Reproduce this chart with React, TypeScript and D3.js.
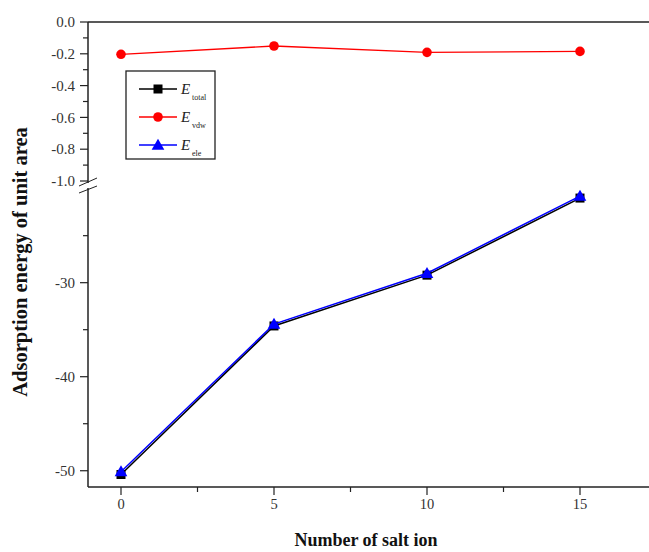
import React from "react";
import * as d3 from "d3";

// Number of salt ions on the x axis
const saltIons = [0, 5, 10, 15];
// Adsorption energy components per unit area
const eTotal = [-50.4, -34.6, -29.2, -21.0];
const eVdw = [-0.203, -0.151, -0.191, -0.185];
const eEle = [-50.1, -34.4, -29.0, -20.8];

const xMajorTicks = [0, 5, 10, 15];
const xMinorTicks = [2.5, 7.5, 12.5];
const upperMajorTicks = [0.0, -0.2, -0.4, -0.6, -0.8, -1.0];
const upperMinorTicks = [-0.1, -0.3, -0.5, -0.7, -0.9];
const lowerMajorTicks = [-30, -40, -50];
const lowerMinorTicks = [-25, -35, -45];

const seriesNames = ["total", "vdw", "ele"];

const W = 649;
const H = 552;
const left = 88;
const right = 660;
const top = 22;
const bottom = 487;
const breakTop = 183;
const breakBottom = 188;

const x = d3.scaleLinear().domain([0, 15]).range([121, 580]);
const yUpper = d3.scaleLinear().domain([-1.0, 0.0]).range([181, top]);
const yLower = d3.scaleLinear().domain([-51.73, -19.93]).range([bottom, breakBottom]);

const font = "'Liberation Serif', 'Times New Roman', serif";

function Square({ cx, cy, s, fill }: { cx: number; cy: number; s: number; fill: string }) {
  return <rect x={cx - s / 2} y={cy - s / 2} width={s} height={s} fill={fill} />;
}
function Triangle({ cx, cy, s, fill }: { cx: number; cy: number; s: number; fill: string }) {
  const sym = d3.symbol(d3.symbolTriangle, s)();
  return <path d={sym || ""} transform={`translate(${cx},${cy + 1})`} fill={fill} />;
}

export default function App() {
  const lineUpper = d3
    .line<number>()
    .x((_, i) => x(saltIons[i]))
    .y((d) => yUpper(d));
  const lineLower = d3
    .line<number>()
    .x((_, i) => x(saltIons[i]))
    .y((d) => yLower(d));

  const legendRows = [
    { color: "#000000", name: seriesNames[0], marker: "square", y: 89 },
    { color: "#ff0000", name: seriesNames[1], marker: "circle", y: 117 },
    { color: "#0000ff", name: seriesNames[2], marker: "triangle", y: 145 },
  ];

  return (
    <svg
      width={W}
      height={H}
      style={{ position: "absolute", left: 0, top: 0, background: "#fff" }}
      fontFamily={font}
    >
      <rect width={W} height={H} fill="#fff" />
      {/* frame */}
      <line x1={left} x2={right} y1={top} y2={top} stroke="#222" strokeWidth={1.5} />
      <line x1={left} x2={right} y1={bottom} y2={bottom} stroke="#222" strokeWidth={1.5} />
      <line x1={left} x2={left} y1={top} y2={breakTop} stroke="#222" strokeWidth={1.5} />
      <line x1={left} x2={left} y1={breakBottom} y2={bottom} stroke="#222" strokeWidth={1.5} />
      {/* axis break marks */}
      <line x1={79} x2={97} y1={186} y2={178} stroke="#222" strokeWidth={1} />
      <line x1={79} x2={97} y1={193} y2={186} stroke="#222" strokeWidth={1} />

      {/* upper y ticks */}
      {upperMajorTicks.map((t) => (
        <g key={`um${t}`}>
          <line x1={left - 8} x2={left} y1={yUpper(t)} y2={yUpper(t)} stroke="#222" strokeWidth={1.2} />
          <text x={75} y={yUpper(t)} dy="0.35em" textAnchor="end" fontSize={15} fill="#333">
            {t === 0 ? "0.0" : "-" + Math.abs(t).toFixed(1)}
          </text>
        </g>
      ))}
      {upperMinorTicks.map((t) => (
        <line key={`un${t}`} x1={left - 5} x2={left} y1={yUpper(t)} y2={yUpper(t)} stroke="#222" strokeWidth={1.2} />
      ))}
      {/* lower y ticks */}
      {lowerMajorTicks.map((t) => (
        <g key={`lm${t}`}>
          <line x1={left - 8} x2={left} y1={yLower(t)} y2={yLower(t)} stroke="#222" strokeWidth={1.2} />
          <text x={75} y={yLower(t)} dy="0.35em" textAnchor="end" fontSize={15} fill="#333">
            {"-" + Math.abs(t)}
          </text>
        </g>
      ))}
      {lowerMinorTicks.map((t) => (
        <line key={`ln${t}`} x1={left - 5} x2={left} y1={yLower(t)} y2={yLower(t)} stroke="#222" strokeWidth={1.2} />
      ))}
      {/* x ticks */}
      {xMajorTicks.map((t) => (
        <g key={`xm${t}`}>
          <line x1={x(t)} x2={x(t)} y1={bottom} y2={bottom + 8} stroke="#222" strokeWidth={1.2} />
          <text x={x(t)} y={bottom + 22} textAnchor="middle" fontSize={14.5} fill="#333">
            {t}
          </text>
        </g>
      ))}
      {xMinorTicks.map((t) => (
        <line key={`xn${t}`} x1={x(t)} x2={x(t)} y1={bottom} y2={bottom + 5} stroke="#222" strokeWidth={1.2} />
      ))}

      {/* axis titles */}
      <text
        transform={`translate(27,262) rotate(-90)`}
        textAnchor="middle"
        fontSize={20.5}
        fontWeight="bold"
        fill="#111"
      >
        Adsorption energy of unit area
      </text>
      <text x={366} y={546} textAnchor="middle" fontSize={18} fontWeight="bold" fill="#111">
        Number of salt ion
      </text>

      {/* series */}
      <path d={lineUpper(eVdw) || ""} fill="none" stroke="#ff0000" strokeWidth={1.3} />
      {eVdw.map((v, i) => (
        <circle key={`v${i}`} cx={x(saltIons[i])} cy={yUpper(v)} r={4.8} fill="#ff0000" />
      ))}
      <path d={lineLower(eTotal) || ""} fill="none" stroke="#000" strokeWidth={1.5} />
      {eTotal.map((v, i) => (
        <Square key={`t${i}`} cx={x(saltIons[i])} cy={yLower(v)} s={9} fill="#000" />
      ))}
      <path d={lineLower(eEle) || ""} fill="none" stroke="#0000ff" strokeWidth={1.5} />
      {eEle.map((v, i) => (
        <Triangle key={`e${i}`} cx={x(saltIons[i])} cy={yLower(v)} s={70} fill="#0000ff" />
      ))}

      {/* legend */}
      <rect x={126} y={71} width={89} height={88} fill="#fff" stroke="#222" strokeWidth={1.3} />
      {legendRows.map((r) => (
        <g key={r.name}>
          <line x1={139} x2={177} y1={r.y} y2={r.y} stroke={r.color} strokeWidth={1.3} />
          {r.marker === "square" && <Square cx={158} cy={r.y} s={9} fill={r.color} />}
          {r.marker === "circle" && <circle cx={158} cy={r.y} r={4.8} fill={r.color} />}
          {r.marker === "triangle" && <Triangle cx={158} cy={r.y} s={70} fill={r.color} />}
          <text x={181} y={r.y + 5} fontSize={15} fontStyle="italic" fill="#222">
            E
          </text>
          <text x={192} y={r.y + 11} fontSize={8} fill="#222">
            {r.name}
          </text>
        </g>
      ))}
    </svg>
  );
}
